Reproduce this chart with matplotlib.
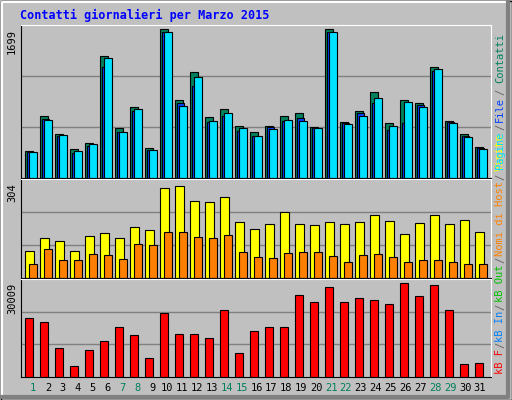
import matplotlib
matplotlib.use('Agg')
import matplotlib.pyplot as plt
import numpy as np

days = list(range(1, 32))
weekend = [1, 7, 8, 14, 15, 21, 22, 28, 29]

hits = [310, 712, 505, 333, 402, 1389, 574, 815, 344, 1699, 884, 1205, 700, 792, 597, 528,
        597, 712, 746, 585, 1699, 643, 769, 976, 631, 895, 850, 1263, 654, 505, 356]
files = [292, 676, 477, 281, 361, 1269, 523, 765, 315, 1664, 857, 1045, 638, 707, 534, 477,
         580, 650, 684, 569, 1664, 626, 742, 861, 546, 630, 834, 1226, 638, 477, 338]
pages = [292, 661, 488, 304, 384, 1365, 523, 788, 315, 1664, 823, 1157, 650, 742, 569, 477,
         557, 661, 650, 569, 1664, 615, 707, 915, 592, 869, 811, 1238, 627, 465, 327]
visits = [90, 132, 122, 90, 139, 148, 132, 168, 158, 297, 304, 255, 251, 268, 185, 162,
          178, 218, 178, 176, 185, 178, 185, 209, 189, 146, 182, 209, 178, 192, 150]
sites = [47, 97, 60, 60, 80, 77, 64, 113, 110, 153, 153, 136, 133, 143, 87, 70,
         67, 83, 87, 87, 74, 54, 77, 80, 70, 54, 60, 60, 54, 47, 47]
kbytes = [18838, 17524, 9309, 3395, 8652, 11609, 15881, 13580, 6024, 20481, 13909, 13909,
          12595, 21466, 7667, 14895, 15881, 15881, 26395, 24095, 29024, 24095, 25409, 24752,
          23438, 30009, 26066, 29352, 21466, 4052, 4381]

W, H = 512, 400
fig = plt.figure(figsize=(W / 100, H / 100), dpi=100)
fig.patch.set_facecolor('#c0c0c0')

def axes_px(x0, y0, x1, y1):
    return fig.add_axes([x0 / W, 1 - y1 / H, (x1 - x0) / W, (y1 - y0) / H])

x = np.arange(31)
ax1 = axes_px(21, 25, 491, 178)
ax2 = axes_px(21, 179, 491, 278)
ax3 = axes_px(21, 279, 491, 377)

for ax, top in [(ax1, 1745), (ax2, 326), (ax3, 31430)]:
    ax.set_facecolor('#c0c0c0')
    ax.set_xlim(-0.267, 31.07)
    ax.set_ylim(0, top)
    for g in (top / 3, 2 * top / 3):
        ax.axhline(g, color='#808080', lw=1, zorder=0)
    ax.set_xticks([])
    ax.set_yticks([])
    for s in ax.spines.values():
        s.set_color('black')
    ax.spines['right'].set_color('white')
    ax.spines['top'].set_color('white')

kw = dict(align='edge', edgecolor='black', linewidth=0.8)
ax1.bar(x, hits, 0.53, color='#00805c', **kw)
ax1.bar(x + 0.13, files, 0.5, color='#0040ff', **kw)
ax1.bar(x + 0.27, pages, 0.5, color='#00e0ff', **kw)
ax2.bar(x, visits, 0.58, color='#ffff00', **kw)
ax2.bar(x + 0.27, sites, 0.51, color='#ff8000', **kw)
ax3.bar(x, kbytes, 0.53, color='#ff0000', **kw)

mono = 'DejaVu Sans Mono'
fig.text(20 / W, 1 - 15 / H, 'Contatti giornalieri per Marzo 2015', color='#0000ff',
         family=mono, weight='bold', fontsize=8.5, va='center')
for txt, y in [('1699', 29), ('304', 183), ('30009', 283)]:
    fig.text(12 / W, 1 - y / H, txt, rotation=90, family=mono, fontsize=7.5,
             ha='center', va='top')

for d in days:
    fig.text((33 + (d - 1) * 14.9) / W, 1 - 388 / H, str(d), ha='center',
             va='center', fontsize=7.5, family=mono,
             color='#00805c' if d in weekend else 'black')

legend = [('kB F', '#ff0000', 361), ('/', '#606060', 345), ('kB In', '#0080ff', 326),
          ('/', '#606060', 307), ('kB Out', '#00c000', 283), ('/', '#606060', 260),
          ('Nomi di Host', '#ff8000', 218), ('/', '#606060', 177),
          ('Visite', '#ffff00', 152), ('Pagine', '#00e0ff', 150), ('/', '#606060', 127),
          ('File', '#0040ff', 109), ('/', '#606060', 92), ('Contatti', '#00805c', 58)]
for txt, c, y in legend:
    fig.text(500 / W, 1 - y / H, txt, rotation=90, color=c, family=mono, fontsize=7.5,
             ha='center', va='center')

# bevelled frame
fig.add_artist(plt.Rectangle((0.5 / W, 0.5 / H), 1 - 1 / W, 1 - 1 / H, transform=fig.transFigure,
                             fill=False, edgecolor='black', lw=1))
fig.add_artist(plt.Line2D([2 / W, 2 / W, 1 - 4 / W], [3 / H, 1 - 2 / H, 1 - 2 / H],
                          transform=fig.transFigure, color='white', lw=1.5))
fig.add_artist(plt.Line2D([2 / W, 1 - 4 / W, 1 - 4 / W], [3 / H, 3 / H, 1 - 2 / H],
                          transform=fig.transFigure, color='#808080', lw=3))

fig.savefig('out.png', dpi=100, facecolor=fig.get_facecolor())
